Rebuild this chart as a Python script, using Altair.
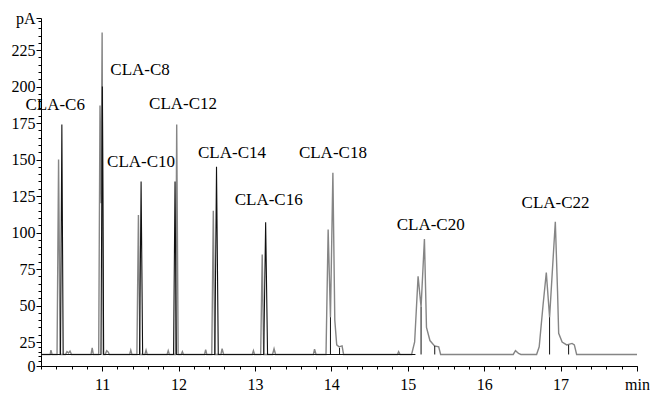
import altair as alt
import pandas as pd

BASE = 12

grey_t = [10.20, 10.32, 10.33, 10.345, 10.41, 10.43, 10.45, 10.52, 10.54, 10.56, 10.58, 10.60,
          10.855, 10.87, 10.885, 10.955, 10.972, 10.986, 11.00, 11.015, 11.04, 11.06, 11.08, 11.095,
          11.36, 11.375, 11.39, 11.455, 11.475, 11.495, 11.56, 11.575, 11.59, 11.85, 11.865, 11.88,
          11.96, 11.976, 11.995, 12.035, 12.05, 12.065, 12.34, 12.355, 12.37, 12.435, 12.455, 12.475,
          12.555, 12.57, 12.59, 12.965, 12.98, 12.995, 13.075, 13.095, 13.115, 13.23, 13.25, 13.27,
          13.765, 13.78, 13.80, 13.93, 13.958, 13.988, 14.02, 14.045, 14.07, 14.10, 14.14, 14.16,
          14.865, 14.88, 14.90, 15.05, 15.09, 15.135, 15.174, 15.218, 15.245, 15.29, 15.35, 15.405, 15.43,
          16.38, 16.41, 16.45, 16.48, 16.686, 16.72, 16.77, 16.813, 16.856, 16.931, 16.96, 16.975,
          17.02, 17.08, 17.15, 17.18, 17.21, 18.00]
grey_v = [12, 12, 16.5, 12, 12, 150, 12, 12, 15, 13.5, 15.5, 12,
          12, 19, 12, 12, 187, 120, 237, 12, 12, 16, 14.5, 12,
          12, 16.5, 12, 12, 112, 12, 12, 16.5, 12, 12, 16, 12,
          12, 174, 12, 12, 15, 12, 12, 17, 12, 12, 115, 12,
          12, 18, 12, 12, 16, 12, 12, 85, 12, 12, 18, 12,
          12, 17.5, 12, 12, 102, 42, 141, 40, 22, 20, 21, 12,
          12, 15, 12, 12, 25, 70, 49, 95.5, 35, 26, 21, 20, 12,
          12, 16, 13, 12, 12, 20, 50, 72.5, 42, 107.4, 60, 31,
          25, 22, 23.5, 22, 12, 12]

black_t = [10.20, 10.455, 10.473, 10.49, 10.985, 11.003, 11.02, 11.49, 11.51, 11.53,
           11.935, 11.954, 11.972, 12.475, 12.497, 12.52, 13.115, 13.14, 13.165, 15.10]
black_v = [12, 12, 174, 12, 12, 200, 12, 12, 135, 12,
           12, 135, 12, 12, 145, 12, 12, 107, 12, 12]

drop_t = [13.988, 14.107, 15.174, 15.353, 16.856, 17.105]
drop_v = [42, 19, 49, 21, 42, 22]

label_text = ["CLA-C6", "CLA-C8", "CLA-C10", "CLA-C12", "CLA-C14", "CLA-C16", "CLA-C18", "CLA-C20", "CLA-C22"]
label_t = [10.386, 11.497, 11.51, 12.059, 12.70, 13.18, 14.02, 15.30, 16.935]
label_v = [187.3, 211.3, 148.3, 188, 154.5, 122.3, 154.5, 105.1, 120.2]

x_major = [11, 12, 13, 14, 15, 16, 17, 18]
y_major = [0, 25, 50, 75, 100, 125, 150, 175, 200, 225]
Y_TOP = 247

FONT = "Liberation Serif"

x_minor = [round(10.2 + 0.2 * i, 1) for i in range(40)]
y_minor = [5 * i for i in range(50)]

xscale = alt.Scale(domain=[10.2, 18.0], nice=False, zero=False)
yscale = alt.Scale(domain=[0, 25, Y_TOP], range=[348, 324, 0], nice=False, zero=False)

common = dict(title=None, grid=False, domainColor="black", tickColor="black", labelColor="black",
              labelFont=FONT, labelFontSize=16, labelFlush=False, labelOverlap=False, labelBound=False)

x_major_axis = alt.Axis(values=x_major, orient="bottom", tickSize=5, labelPadding=5,
                        labelExpr="datum.value == 18 ? 'min' : format(datum.value, 'd')", **common)
x_minor_axis = alt.Axis(values=x_minor, orient="bottom", tickSize=3, labels=False, domain=False,
                        title=None, grid=False, tickColor="black")
y_major_axis = alt.Axis(values=y_major + [Y_TOP], orient="left", tickSize=5, labelPadding=1,
                        labelExpr=f"datum.value == {Y_TOP} ? 'pA' : format(datum.value, 'd')", **common)
y_minor_axis = alt.Axis(values=y_minor, orient="left", tickSize=3, labels=False, domain=False,
                        title=None, grid=False, tickColor="black")

grey_df = pd.DataFrame({"t": grey_t, "v": grey_v})
black_df = pd.DataFrame({"t": black_t, "v": black_v})
drop_df = pd.DataFrame({"t": drop_t, "v": drop_v, "b": [BASE] * len(drop_t)})
label_df = pd.DataFrame({"text": label_text, "t": label_t, "v": label_v})

grey = alt.Chart(grey_df).mark_line(color="#858585", strokeWidth=1.4).encode(
    x=alt.X("t:Q", scale=xscale, axis=x_major_axis),
    y=alt.Y("v:Q", scale=yscale, axis=y_major_axis),
    order="t:Q",
)
black = alt.Chart(black_df).mark_line(color="#111111", strokeWidth=1.1).encode(
    x=alt.X("t:Q", scale=xscale, axis=x_minor_axis),
    y=alt.Y("v:Q", scale=yscale, axis=y_minor_axis),
    order="t:Q",
)
drops = alt.Chart(drop_df).mark_rule(color="#111111", strokeWidth=1).encode(
    x=alt.X("t:Q", scale=xscale, axis=None),
    y=alt.Y("b:Q", scale=yscale, axis=None),
    y2="v:Q",
)
labels = alt.Chart(label_df).mark_text(font=FONT, fontSize=17, color="black", align="center", baseline="middle").encode(
    x=alt.X("t:Q", scale=xscale, axis=None),
    y=alt.Y("v:Q", scale=yscale, axis=None),
    text="text:N",
)

chart = alt.layer(grey, black, drops, labels).resolve_axis(x="independent", y="independent").properties(
    width=596, height=348,
    autosize=alt.AutoSizeParams(type="none"),
    padding={"left": 41, "top": 18, "right": 13, "bottom": 27},
    background="white",
).configure_view(stroke=None).configure_axis(labelOverlap=False)

chart.save("out.html", embed_options={"renderer": "svg", "actions": False})
